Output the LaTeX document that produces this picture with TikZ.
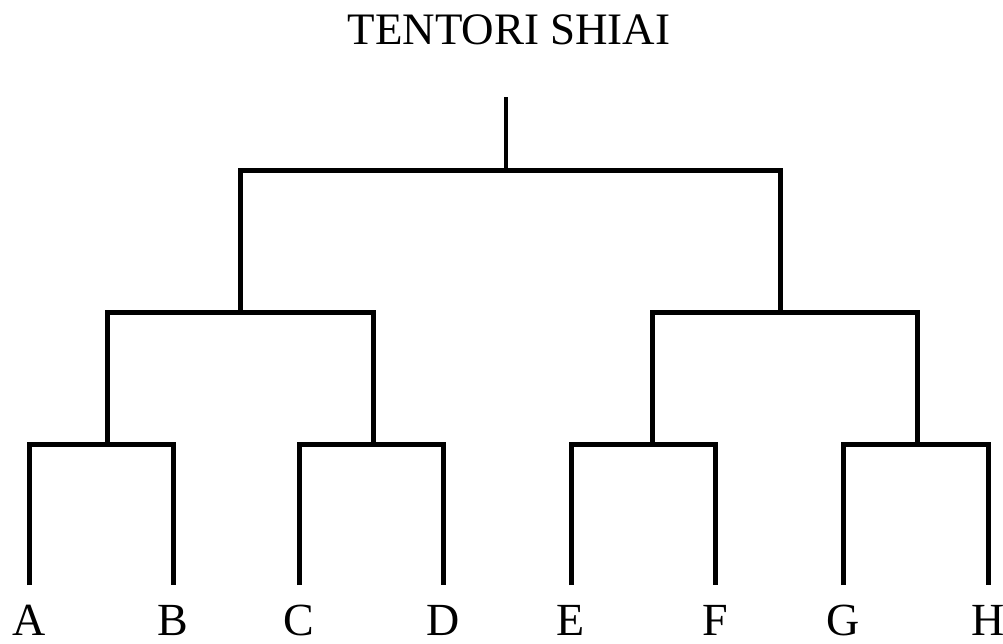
\documentclass[tikz,border=0pt]{standalone}
\usepackage{fontspec}
\setmainfont{Liberation Serif}
\usetikzlibrary{calc}

\begin{document}
\begin{tikzpicture}[x=1pt,y=-1pt,
    bracket/.style={line width=5pt, line join=miter},
    leaflabel/.style={font=\fontsize{46}{46}\selectfont, inner sep=0pt, anchor=base},
    titlelabel/.style={font=\fontsize{45}{45}\selectfont, inner sep=0pt, anchor=base}]
    \useasboundingbox (0,0) rectangle (1003,643);
    \node[titlelabel] (title) at (509,44) {TENTORI SHIAI};
    % leaves
    \foreach \name/\x in {A/29,B/173,C/299,D/443,E/571,F/715,G/843,H/988}{
        \coordinate (\name) at (\x,585);
        \node[leaflabel] (l\name) at (\x,635) {\name};
    }
    % joints
    \coordinate (AB) at (107,444);
    \coordinate (CD) at (373,444);
    \coordinate (EF) at (652,444);
    \coordinate (GH) at (917,444);
    \coordinate (ABCD) at (240,312);
    \coordinate (EFGH) at (780,312);
    \coordinate (final) at (506,170);
    \coordinate (winner) at (506,97);
    \draw[bracket] (A) |- (AB) -| (B);
    \draw[bracket] (C) |- (CD) -| (D);
    \draw[bracket] (E) |- (EF) -| (F);
    \draw[bracket] (G) |- (GH) -| (H);
    \draw[bracket] (AB) |- (ABCD) -| (CD);
    \draw[bracket] (EF) |- (EFGH) -| (GH);
    \draw[bracket] (ABCD) |- (final) -| (EFGH);
    \draw[line width=3.5pt] (final) -- (winner);
\end{tikzpicture}
\end{document}
